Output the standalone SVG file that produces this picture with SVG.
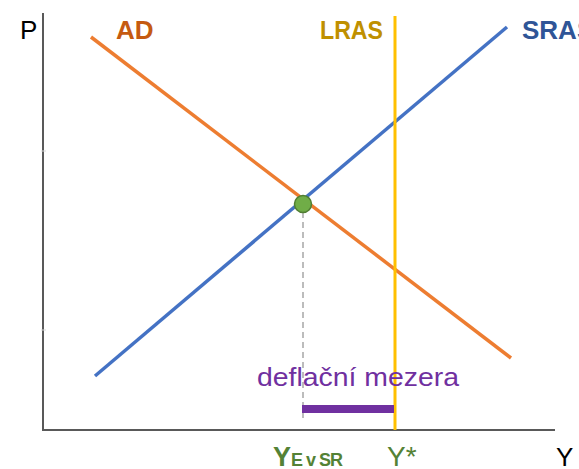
<svg xmlns="http://www.w3.org/2000/svg" width="579" height="469" viewBox="0 0 579 469">
<style>
.lbl{font-family:"Liberation Sans",Arial,sans-serif;}
.b{font-weight:bold;}
.curve{fill:none;stroke-width:3.5;stroke-linecap:butt;}
</style>
<rect width="579" height="469" fill="#fff"/>
<g id="axes">
<line x1="43" y1="13" x2="43" y2="431" stroke="#595959" stroke-width="2"/>
<line x1="42" y1="430" x2="555" y2="430" stroke="#595959" stroke-width="2"/>
<line x1="41" y1="151" x2="46" y2="151" stroke="#d9d9d9" stroke-width="1"/>
<line x1="41" y1="330" x2="46" y2="330" stroke="#d9d9d9" stroke-width="1"/>
<text class="lbl" x="20" y="39" font-size="26" fill="#000">P</text>
<text class="lbl" x="556" y="466" font-size="26" fill="#000">Y</text>
</g>
<g id="connectors">
<line id="ad-line" class="curve" x1="91" y1="37" x2="511" y2="358" stroke="#ED7D31"/>
<line id="sras-line" class="curve" x1="95" y1="376" x2="507" y2="27" stroke="#4472C4"/>
<line id="lras-line" x1="395" y1="16" x2="395" y2="430" stroke="#FFC000" stroke-width="3"/>
<line id="dash" x1="303" y1="212" x2="303" y2="418" stroke="#a6a6a6" stroke-width="1.5" stroke-dasharray="6,4"/>
<line id="gap" x1="302" y1="409" x2="394" y2="409" stroke="#7030A0" stroke-width="8"/>
</g>
<g id="ad-label"><text class="lbl b" x="116" y="39" font-size="26" fill="#C55A11">AD</text></g>
<g id="lras-label"><text class="lbl b" x="320" y="39" font-size="26" fill="#BF9000" textLength="63" lengthAdjust="spacingAndGlyphs">LRAS</text></g>
<g id="sras-label"><text class="lbl b" x="522" y="39" font-size="26" fill="#2F5597">SRAS</text></g>
<g id="equilibrium"><circle cx="303" cy="204" r="8.5" fill="#70AD47" stroke="#507E32" stroke-width="1.5"/></g>
<g id="gap-label"><text class="lbl" x="257" y="386" font-size="25" fill="#7030A0" textLength="202" lengthAdjust="spacingAndGlyphs">deflační mezera</text></g>
<g id="ye-label"><text class="lbl b" x="273" y="466" font-size="27" fill="#548235">Y<tspan font-size="18" textLength="52">E v SR</tspan></text></g>
<g id="ystar-label"><text class="lbl" x="387" y="466" font-size="28" fill="#548235">Y*</text></g>
</svg>
